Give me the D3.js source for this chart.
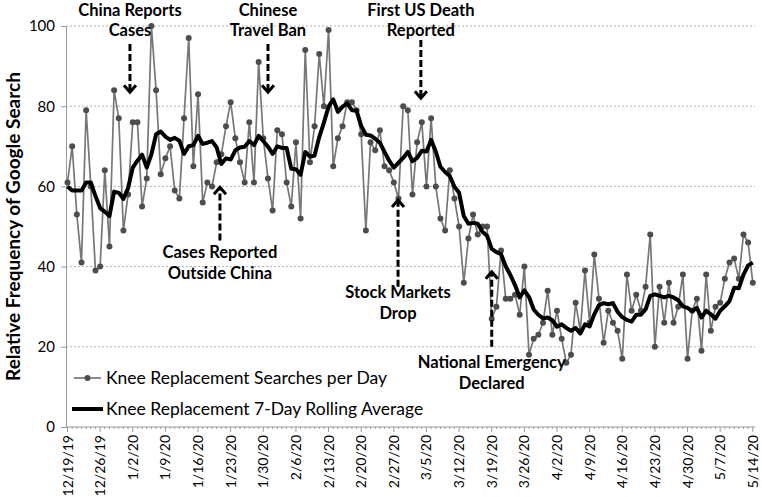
<!DOCTYPE html>
<html><head><meta charset="utf-8">
<script src="https://cdn.jsdelivr.net/npm/d3@7/dist/d3.min.js"></script>
<style>body{margin:0;background:#fff}svg{display:block}text{font-family:Lato,"Open Sans",sans-serif}</style>
</head><body><svg id="c" width="762" height="497"></svg>
<script>
// daily searches, 12/19/19 .. 5/14/20
const startDate = "2019-12-19";
const searches = [61,70,53,41,79,60,39,40,64,45,84,77,49,58,76,76,55,62,100,84,63,67,70,59,57,77,97,65,83,56,61,60,66,68,75,81,72,66,61,76,61,91,72,62,54,74,73,61,55,71,52,94,66,75,93,80,99,65,72,75,81,81,79,73,49,71,69,74,65,64,61,57,80,79,58,71,76,60,77,60,52,49,64,57,50,36,47,53,48,50,50,27,30,44,32,32,33,28,40,18,22,23,26,34,23,29,22,16,18,31,24,39,26,43,32,21,29,26,24,17,38,29,33,29,35,48,20,35,26,36,26,30,38,17,29,32,19,38,24,30,31,37,41,42,37,48,46,36];
const rolling = [60,59,59,59,61,61,57.6,54.6,53.7,52.6,58.7,58.4,56.9,59.6,64.7,66.4,67.9,64.7,68,73,73.7,72.4,71.6,72.1,71.4,68.1,70,70.3,72.6,70.6,70.9,71.3,69.7,65.6,67,66.7,69,69.7,69.9,71.3,70.3,72.6,71.3,69.9,68.1,70,69.6,69.6,64.4,64.3,62.9,68.6,67.4,67.7,72.3,75.9,79.9,81.7,78.6,79.9,80.7,79,78.9,75.1,72.9,72.7,71.9,70.9,68.6,66.4,64.7,65.9,67.1,68.6,66.3,67.1,68.9,68.7,71.6,68.7,64.9,63.6,62.6,59.9,58.4,52.6,50.7,50.9,50.7,48.7,47.7,44.4,43.6,43.1,40.1,37.9,35.4,32.3,34.1,32.4,29.3,28,27.1,27.3,26.6,25,25.6,24.7,24,24.7,23.3,25.6,25.1,28.1,30.4,30.9,30.6,30.9,28.7,27.4,26.7,26.3,28,28,29.3,32.7,33.1,32.7,32.3,32.7,32.3,31.6,30.1,29.7,28.9,29.7,27.3,29,28.1,27,29,30.1,31.4,34.7,34.6,38,40.3,41];
const xTickLabels = ["12/19/19","12/26/19","1/2/20","1/9/20","1/16/20","1/23/20","1/30/20","2/6/20","2/13/20","2/20/20","2/27/20","3/5/20","3/12/20","3/19/20","3/26/20","4/2/20","4/9/20","4/16/20","4/23/20","4/30/20","5/7/20","5/14/20"];
const yTicks = [0,20,40,60,80,100];
const seriesNames = ["Knee Replacement Searches per Day","Knee Replacement 7-Day Rolling Average"];
const yTitle = "Relative Frequency of Google Search";
// annotations: day index, text lines, text baseline values, arrow tail/tip values
const annotations = [
  {day:13.4, lines:["China Reports","Cases"], textY:[102.5,97.5], from:95.5, to:83.5},
  {day:43.0, lines:["Chinese","Travel Ban"], textY:[102.5,97.5], from:95.5, to:83.5},
  {day:75.8, lines:["First US Death","Reported"], textY:[102.5,97.5], from:96.5, to:82},
  {day:32.7, lines:["Cases Reported","Outside China"], textY:[42.2,37], from:46.5, to:59.8},
  {day:70.9, lines:["Stock Markets","Drop"], textY:[32.2,27], from:35, to:56.6},
  {day:91.0, lines:["National Emergency","Declared"], textY:[14.7,9.5], from:20, to:38.7}
];

const svg = d3.select("#c");
const x = d3.scaleLinear().domain([0, searches.length-1]).range([67.5, 752.8]);
const y = d3.scaleLinear().domain([0,100]).range([427, 26]);

// gridlines
svg.append("g").selectAll("line").data(yTicks.filter(d=>d>0)).join("line")
  .attr("x1",66).attr("x2",755).attr("y1",d=>y(d)).attr("y2",d=>y(d))
  .attr("stroke","#b0b0b0").attr("stroke-width",1).attr("stroke-dasharray","2,2");

// y axis
const yAxis = svg.append("g").attr("transform","translate(66,0)")
  .call(d3.axisLeft(y).tickValues(yTicks).tickSize(5).tickPadding(6));
yAxis.select(".domain").attr("stroke","#999");
yAxis.selectAll(".tick line").attr("stroke","#999");
yAxis.selectAll("text").attr("font-size",15).attr("fill","#000").style("font-family","Lato");

// x axis
svg.append("line").attr("x1",66).attr("x2",755).attr("y1",y(0)).attr("y2",y(0)).attr("stroke","#999");
svg.append("g").selectAll("line").data(d3.range(searches.length)).join("line")
  .attr("x1",d=>x(d)).attr("x2",d=>x(d)).attr("y1",y(0)).attr("y2",d=>y(0)+(d%7===0?5:2))
  .attr("stroke","#999");
svg.append("g").selectAll("text").data(xTickLabels).join("text")
  .attr("transform",(d,i)=>`translate(${x(i*7)+5},${y(0)+8}) rotate(-90)`)
  .attr("text-anchor","end").attr("font-size",14).attr("fill","#000").text(d=>d);

// y title
svg.append("text").attr("transform",`translate(20,${(y(0)+y(100))/2}) rotate(-90)`)
  .attr("text-anchor","middle").attr("font-size",19).attr("font-weight","bold").text(yTitle);

// daily series
const line = d3.line().x((d,i)=>x(i)).y(d=>y(d));
svg.append("path").datum(searches).attr("d",line).attr("fill","none")
  .attr("stroke","#777").attr("stroke-width",1.7);
svg.append("g").selectAll("circle").data(searches).join("circle")
  .attr("cx",(d,i)=>x(i)).attr("cy",d=>y(d)).attr("r",3).attr("fill","#4d4d4d");

// rolling average
svg.append("path").datum(rolling).attr("d",line).attr("fill","none")
  .attr("stroke","#000").attr("stroke-width",4).attr("stroke-linejoin","round");

// annotations
const ag = svg.append("g");
annotations.forEach(a=>{
  const ax = x(a.day);
  a.lines.forEach((t,k)=>{
    ag.append("text").attr("x",ax).attr("y",y(a.textY[k])).attr("text-anchor","middle")
      .attr("font-size",16.5).attr("font-weight","bold").text(t);
  });
  ag.append("line").attr("x1",ax).attr("x2",ax).attr("y1",y(a.from)).attr("y2",y(a.to))
    .attr("stroke","#000").attr("stroke-width",3).attr("stroke-dasharray","7,3");
  const dir = y(a.to) > y(a.from) ? 1 : -1;
  const tip = y(a.to);
  ag.append("path").attr("d",`M${ax-6},${tip-7*dir} L${ax},${tip} L${ax+6},${tip-7*dir}`)
    .attr("fill","none").attr("stroke","#000").attr("stroke-width",3);
});

// legend
const lg = svg.append("g");
lg.append("line").attr("x1",74).attr("x2",101).attr("y1",378).attr("y2",378).attr("stroke","#777").attr("stroke-width",1.7);
lg.append("circle").attr("cx",87.5).attr("cy",378).attr("r",3).attr("fill","#4d4d4d");
lg.append("text").attr("x",106).attr("y",384).attr("font-size",17.5).text(seriesNames[0]);
lg.append("line").attr("x1",72).attr("x2",103).attr("y1",409).attr("y2",409).attr("stroke","#000").attr("stroke-width",4);
lg.append("text").attr("x",106).attr("y",415).attr("font-size",17.5).text(seriesNames[1]);
</script></body></html>
